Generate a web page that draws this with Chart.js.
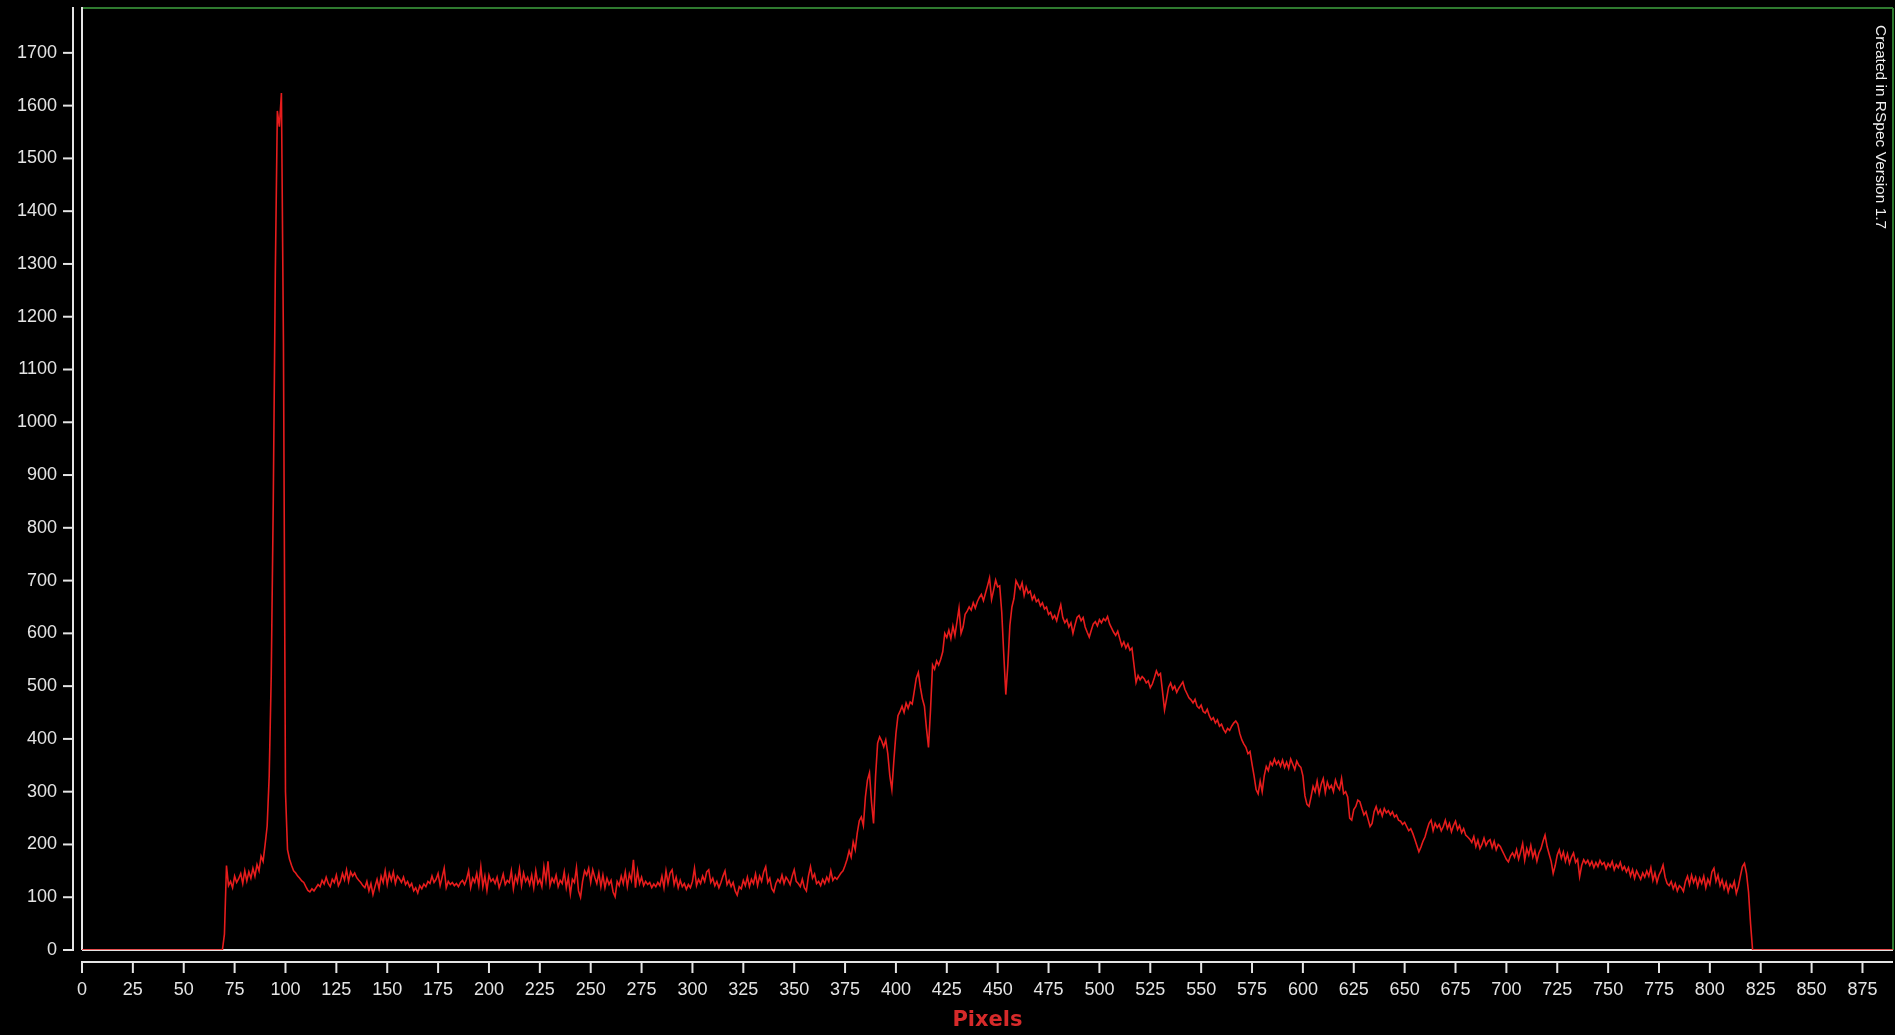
<!DOCTYPE html>
<html>
<head>
<meta charset="utf-8">
<title>Pixels</title>
<script src="https://cdn.jsdelivr.net/npm/chart.js@4/dist/chart.umd.min.js"></script>
<style>
  html, body { margin: 0; padding: 0; background: #000; overflow: hidden; }
  #wrap { position: relative; width: 1895px; height: 1035px; }
  canvas { display: block; }
  #credit {
    position: absolute; left: 1870px; top: 25px;
    writing-mode: vertical-rl;
    font: 15.5px "Liberation Sans", Arial, sans-serif;
    line-height: 22px; color: #f0f0f0; white-space: nowrap;
  }
</style>
</head>
<body>
<div id="wrap">
  <canvas id="c" width="1895" height="1035"></canvas>
  <div id="credit">Created in RSpec Version 1.7</div>
</div>
<script>
// Intensity per sensor pixel, index = pixel number
const counts = [
  0,0,0,0,0,0,0,0,0,0,
  0,0,0,0,0,0,0,0,0,0,
  0,0,0,0,0,0,0,0,0,0,
  0,0,0,0,0,0,0,0,0,0,
  0,0,0,0,0,0,0,0,0,0,
  0,0,0,0,0,0,0,0,0,0,
  0,0,0,0,0,0,0,0,0,0,
  30,160,122,130,118,140,128,135,145,126,        // 70
  150,131,148,136,155,140,162,150,178,168,
  200,235,330,520,850,1280,1590,1560,1624,1150,  // 90
  300,190,172,160,150,146,140,136,131,128,       // 100
  120,113,110,116,112,118,124,120,132,125,
  138,126,120,134,128,142,122,130,145,133,
  152,130,148,140,146,137,132,128,122,118,
  130,112,126,105,120,134,116,140,128,150,
  124,145,132,148,126,140,135,128,138,124,       // 150
  130,120,126,112,118,108,122,116,125,120,
  130,126,140,128,134,145,122,138,155,118,
  130,124,128,122,126,120,128,132,124,134,
  150,118,136,128,145,122,158,120,140,113,
  142,130,135,126,138,118,130,144,124,132,       // 200
  128,150,116,140,128,154,122,146,130,138,
  124,142,118,150,126,134,120,158,132,168,
  122,136,128,142,120,132,126,148,118,138,
  106,134,128,156,112,100,130,150,142,155,
  128,152,138,126,146,120,142,118,136,124,       // 250
  132,110,101,130,122,140,126,148,120,144,
  132,171,118,150,126,138,122,130,124,128,
  118,125,120,128,122,140,118,150,126,146,
  152,124,138,118,132,120,126,115,124,118,
  130,155,122,134,126,140,130,148,152,128,       // 300
  136,122,130,118,128,140,150,124,132,120,
  128,112,104,120,116,132,122,138,120,134,
  126,144,122,140,130,148,158,128,136,116,
  110,126,134,128,142,126,138,132,124,140,
  152,130,126,120,134,118,112,140,158,136,       // 350
  144,126,130,122,134,126,138,130,150,132,
  138,134,140,146,150,160,172,188,176,205,
  190,222,245,252,236,290,322,336,280,240,
  330,392,404,396,385,398,372,330,304,360,
  410,444,452,462,450,468,458,470,466,490,       // 400
  515,526,498,476,462,420,384,455,540,532,
  548,540,551,565,600,592,606,590,614,596,
  622,648,600,612,636,642,650,644,658,648,
  660,668,674,662,676,690,705,664,682,701,
  688,690,640,560,484,540,615,650,666,700,       // 450
  692,684,696,672,688,676,680,664,672,660,
  664,652,658,646,650,636,640,628,634,624,
  640,654,630,620,626,612,620,600,616,630,
  634,624,630,612,602,593,606,618,622,614,
  626,620,628,624,632,618,610,602,596,604,       // 500
  590,576,584,572,580,568,572,540,507,520,
  512,518,514,506,510,497,504,516,529,520,
  524,490,455,476,498,506,494,500,488,496,
  502,508,494,486,478,474,468,475,462,458,
  464,452,449,456,444,436,440,430,436,424,       // 550
  428,418,412,420,416,424,430,434,428,410,
  398,390,384,372,376,352,330,304,296,320,
  300,330,348,340,356,350,362,352,358,348,
  360,346,356,344,362,352,342,358,350,346,
  330,292,276,272,290,310,300,320,296,314,       // 600
  325,298,318,306,312,300,322,310,304,325,
  296,300,290,250,246,266,272,284,281,268,
  256,262,248,234,240,262,272,258,266,254,
  268,260,264,256,262,252,256,246,244,238,
  242,234,226,230,221,210,198,186,195,206,       // 650
  214,228,240,246,226,240,232,238,226,234,
  246,230,240,224,236,244,228,236,222,230,
  218,214,210,204,215,196,208,192,200,212,
  198,206,209,194,206,190,200,196,188,180,
  172,167,178,184,176,190,172,186,202,170,       // 700
  192,180,198,176,188,168,184,192,206,218,
  196,182,168,145,160,180,190,174,186,168,
  182,164,176,184,166,172,139,160,171,164,
  170,160,168,156,166,158,170,162,166,154,
  164,158,168,152,162,156,166,152,158,148,       // 750
  156,140,152,136,150,142,134,146,138,150,
  140,156,132,146,128,142,150,161,138,126,
  122,130,116,126,112,122,118,111,130,140,
  124,142,128,138,120,136,126,140,118,134,
  124,148,155,130,142,122,133,116,128,110,       // 800
  124,118,130,107,120,140,158,164,145,110,
  50,0,0,0,0,0,0,0,0,0,
  0,0,0,0,0,0,0,0,0,0,
  0,0,0,0,0,0,0,0,0,0,
  0,0,0,0,0,0,0,0,0,0,                           // 850
  0,0,0,0,0,0,0,0,0,0,
  0,0,0,0,0,0,0,0,0,0,
  0,0,0,0,0,0,0,0,0,0,
  0                                              // 890
];

const xTicks = [0,25,50,75,100,125,150,175,200,225,250,275,300,325,350,375,400,425,
                450,475,500,525,550,575,600,625,650,675,700,725,750,775,800,825,850,875];
const yTicks = [0,100,200,300,400,500,600,700,800,900,1000,1100,1200,1300,1400,1500,1600,1700];
const xRange = [0, 890];
const yRange = [0, 1785];

const AXIS = '#e4e4e4';
const FRAME = '#2f7a2f';
const TRACE = 'rgb(230,28,28)';
const TICK_FONT = { family: '"Liberation Sans", Arial, sans-serif', size: 18 };
const plain = v => String(v);

// Plot border plus the detached axis lines and tick marks
const frame = {
  id: 'frame',
  beforeDatasetsDraw(chart) {
    const { ctx, chartArea: a, scales: { x, y } } = chart;
    const seg = (x1, y1, x2, y2) => { ctx.beginPath(); ctx.moveTo(x1, y1); ctx.lineTo(x2, y2); ctx.stroke(); };
    ctx.save();
    ctx.lineWidth = 2;
    ctx.strokeStyle = FRAME;
    seg(a.left, a.top, a.right, a.top);
    seg(a.right, a.top, a.right, a.bottom);
    ctx.strokeStyle = AXIS;
    seg(a.left, a.top - 1, a.left, a.bottom);
    seg(a.left, a.bottom, a.right, a.bottom);
    const ax = a.left - 9;
    seg(ax, a.top - 1, ax, a.bottom + 1);
    yTicks.forEach(v => { const py = y.getPixelForValue(v); seg(ax - 10, py, ax, py); });
    const ay = a.bottom + 12;
    seg(a.left - 1, ay, a.right, ay);
    xTicks.forEach(v => { const px = x.getPixelForValue(v); seg(px, ay, px, ay + 11); });
    ctx.restore();
  }
};

new Chart(document.getElementById('c'), {
  type: 'line',
  data: {
    datasets: [{
      data: counts.map((v, i) => ({ x: i, y: v })),
      borderColor: TRACE,
      borderWidth: 1.6,
      pointRadius: 0,
      tension: 0,
      fill: false
    }]
  },
  options: {
    responsive: false,
    devicePixelRatio: 1,
    animation: false,
    events: [],
    layout: { padding: { top: 8, right: 2, left: 0, bottom: 0 } },
    plugins: { legend: { display: false }, tooltip: { enabled: false } },
    scales: {
      x: {
        type: 'linear',
        position: 'bottom',
        min: xRange[0], max: xRange[1],
        afterBuildTicks: s => { s.ticks = xTicks.map(v => ({ value: v })); },
        afterFit: s => { s.height = 85; s.paddingLeft = 0; s.paddingRight = 0; },
        grid: { display: true, drawOnChartArea: false, drawTicks: true, tickLength: 22, color: 'rgba(0,0,0,0)' },
        border: { display: false },
        ticks: { color: AXIS, font: TICK_FONT, padding: 7, maxRotation: 0, autoSkip: false, callback: plain },
        title: {
          display: true, text: 'Pixels', color: '#d62a2a',
          font: { family: '"DejaVu Sans", sans-serif', size: 21, weight: 'bold', lineHeight: 1.2 },
          padding: { top: 0, bottom: 2 }
        }
      },
      y: {
        type: 'linear',
        position: 'left',
        min: yRange[0], max: yRange[1],
        afterBuildTicks: s => { s.ticks = yTicks.map(v => ({ value: v })); },
        afterFit: s => { s.width = 82; s.paddingTop = 0; s.paddingBottom = 0; },
        grid: { display: true, drawOnChartArea: false, drawTicks: true, tickLength: 19, color: 'rgba(0,0,0,0)' },
        border: { display: false },
        ticks: { color: AXIS, font: TICK_FONT, padding: 6, autoSkip: false, callback: plain }
      }
    }
  },
  plugins: [frame]
});
</script>
</body>
</html>
